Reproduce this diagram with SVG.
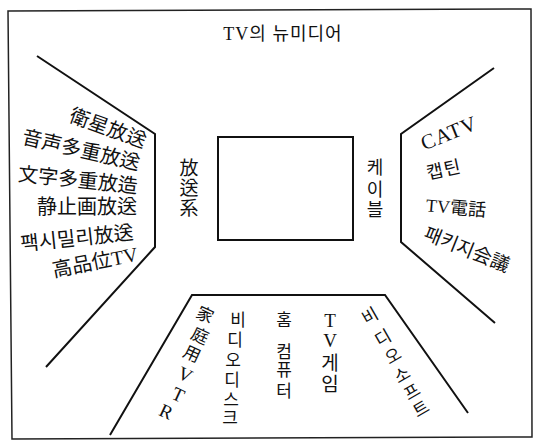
<svg xmlns="http://www.w3.org/2000/svg" width="536" height="442" viewBox="0 0 536 442">
<style>
.t{font-family:"Liberation Serif","Noto Sans CJK KR",serif;fill:#111;}
.ln{fill:none;stroke:#111;stroke-width:2;stroke-linejoin:miter;}
.fr{fill:none;stroke:#222;stroke-width:1.5;}
</style>
<rect width="536" height="442" fill="#fff"/>
<g id="frame"><path class="fr" d="M8,11 L531,9 L532,437 L12,439 Z"/></g>
<g id="title"><text class="t" x="283" y="40" font-size="18" letter-spacing="1" text-anchor="middle">TV의 뉴미디어</text></g>
<g id="connectors">
<path class="ln" d="M37,56 L155,134 L155,247 L46,367"/>
<path class="ln" d="M494,68 L401,134 L401,242 L495,323"/>
<path class="ln" d="M110,435 L192,295 L385,295 L468,413"/>
</g>
<g id="tv"><rect class="ln" x="218" y="137" width="135" height="103"/></g>
<g id="broadcast-label"><text class="t" font-size="19" text-anchor="middle" x="189 189 189" y="175 195 215">放送系</text></g>
<g id="cable-label"><text class="t" font-size="18" text-anchor="middle" x="375 375 375" y="174 196 216">케이블</text></g>
<g id="broadcast" class="t" font-size="20" text-anchor="middle">
<text class="t" transform="translate(108,128) rotate(20)" y="7">衛星放送</text>
<text class="t" transform="translate(81,150) rotate(13)" y="7">音声多重放送</text>
<text class="t" transform="translate(78,180) rotate(6)" y="7">文字多重放造</text>
<text class="t" transform="translate(87,207)" y="7">静止画放送</text>
<text class="t" transform="translate(77,238) rotate(-6)" y="7">팩시밀리放送</text>
<text class="t" transform="translate(95,262) rotate(-11)" y="7">高品位TV</text>
</g>
<g id="cable" text-anchor="middle">
<text class="t" font-size="21" letter-spacing="1" transform="translate(449,133) rotate(-22)" y="7">CATV</text>
<text class="t" font-size="18" letter-spacing="1" transform="translate(444,170) rotate(-12)" y="6">캡틴</text>
<text class="t" font-size="18" transform="translate(456,208) rotate(5)" y="6">TV電話</text>
<text class="t" font-size="19" transform="translate(467,249) rotate(22)" y="7">패키지会議</text>
</g>
<g id="package" text-anchor="middle">
<g id="vtr" font-size="17">
<text class="t" transform="translate(205,315) rotate(25)" y="6">家</text>
<text class="t" transform="translate(200,336) rotate(25)" y="6">庭</text>
<text class="t" transform="translate(192,354) rotate(25)" y="6">用</text>
<text class="t" font-size="19" transform="translate(185,375) rotate(25)" y="6">V</text>
<text class="t" font-size="19" transform="translate(178,395) rotate(25)" y="6">T</text>
<text class="t" font-size="19" transform="translate(166,412) rotate(25)" y="6">R</text>
</g>
<text id="videodisc" class="t" font-size="17" x="238 235 233 232 231 230" y="326 346 366 386 406 424">비디오디스크</text>
<text id="homecomputer" class="t" font-size="17" x="284 284 284 284 284" y="326 326 358 376 397">홈 컴퓨터</text>
<text id="tvgame" class="t" font-size="19" x="330 330 330 330" y="327 347 370 391">TV게임</text>
<g id="videosoft" font-size="17">
<text class="t" transform="translate(370,316) rotate(-30)" y="6">비</text>
<text class="t" transform="translate(383,338) rotate(-30)" y="6">디</text>
<text class="t" transform="translate(393,356) rotate(-30)" y="6">오</text>
<text class="t" transform="translate(402,375) rotate(-30)" y="6">소</text>
<text class="t" transform="translate(412,392) rotate(-30)" y="6">프</text>
<text class="t" transform="translate(421,409) rotate(-30)" y="6">트</text>
</g>
</g>
</svg>
